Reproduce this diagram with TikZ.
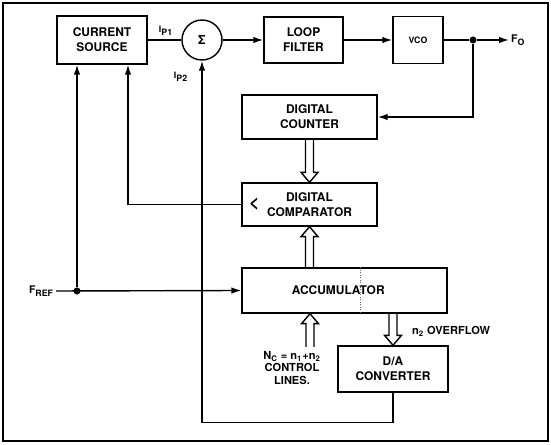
\documentclass[tikz,border=0pt]{standalone}
\usepackage{fontspec}
\setmainfont{TeX Gyre Heros}
\usepackage{tikz}
\usetikzlibrary{shapes,arrows,arrows.meta,calc}
\tikzstyle{rectblock} = [rectangle, draw, thick, align=center, font=\fontsize{6.8}{8.5}\selectfont\bfseries]
\tikzstyle{sumblock} = [circle, draw, thick, minimum size=0.8cm, inner sep=0pt, font=\fontsize{7}{8}\selectfont\bfseries]
\tikzstyle{arrow} = [draw, -{Latex[length=0.2cm, width=0.13cm]}, thick]
\tikzstyle{line} = [draw, thick]
\tikzstyle{lbl} = [inner sep=1pt, align=center, font=\fontsize{6.3}{7.3}\selectfont\bfseries]
\tikzstyle{small} = [inner sep=1pt, font=\fontsize{5}{6}\selectfont\bfseries]
\tikzstyle{junction} = [circle, fill, inner sep=0pt, minimum size=4pt]
\newcommand{\busarrow}[2]{%
    \coordinate (bh) at ($(#2)!0.2cm!(#1)$);
    \draw[thick, line join=miter] ($(#1)!0.08cm!90:(#2)$) -- ($(bh)!0.08cm!90:(#2)$) -- ($(bh)!0.17cm!90:(#2)$) -- (#2) -- ($(bh)!0.17cm!-90:(#2)$) -- ($(bh)!0.08cm!-90:(#2)$) -- ($(#1)!0.08cm!-90:(#2)$);
}

\begin{document}
\begin{tikzpicture}[x=0.02cm, y=-0.02cm]
    \useasboundingbox (0,0) rectangle (551,445);
    \draw[line width=1.2pt] (3,3) rectangle (548,441);

    % forward path
    \node[rectblock, minimum width=1.8cm, minimum height=0.96cm] at (102,40) (src) {CURRENT\\SOURCE};
    \node[sumblock] at (202,40) (sum) {Σ};
    \node[rectblock, minimum width=1.58cm, minimum height=0.92cm] at (303.5,40) (filt) {LOOP\\FILTER};
    \node[rectblock, minimum width=1cm, minimum height=0.94cm, font=\fontsize{5}{6}\selectfont\bfseries] at (418,40) (vco) {VCO};
    \node[junction] at (473,40) (oj) {};
    \node[lbl, anchor=west, font=\fontsize{6}{7}\selectfont\bfseries] at (509,40) (fo) {F\textsubscript{O}};
    \node[small] at (166,31) (ip1) {I\textsubscript{P1}};
    \node[small] at (181,77) (ip2) {I\textsubscript{P2}};

    % counter, comparator, accumulator
    \node[rectblock, minimum width=2.7cm, minimum height=0.88cm] at (309.5,117) (cnt) {DIGITAL\\COUNTER};
    \node[rectblock, minimum width=2.7cm, minimum height=0.86cm] at (309.5,204.5) (cmp) {DIGITAL\\COMPARATOR};
    \node[anchor=west, inner sep=0pt, font=\fontsize{10}{10}\selectfont\bfseries] at ([xshift=0.15cm]cmp.west) (lt) {<};
    \node[rectblock, minimum width=4.1cm, minimum height=0.9cm] at (344.5,290.5) (acc) {ACCUMULATOR\hspace{0.25cm}};
    \coordinate (div) at (360,290);
    \draw[thin, densely dotted, black!60] (div |- acc.north) -- (div |- acc.south);
    \node[rectblock, minimum width=2.2cm, minimum height=0.92cm] at (393,369) (dac) {D/A\\CONVERTER};
    \node[lbl] at (292,368) (ctl) {N\textsubscript{C} = n\textsubscript{1}+n\textsubscript{2}\\CONTROL\\LINES.};
    \node[lbl, anchor=west] at (410,331) (ovf) {n\textsubscript{2} OVERFLOW};
    \node[lbl, anchor=east, font=\fontsize{6}{7}\selectfont\bfseries] at (56,291) (fref) {F\textsubscript{REF}};
    \node[junction] at (77,291) (fj) {};

    % connections
    \path[line] (src.east) -- (sum.west);
    \path[arrow] (sum) -- (filt);
    \path[arrow] (filt) -- (vco);
    \path[line] (vco.east) -- (oj);
    \path[arrow] (oj) -- (fo.west);
    \path[arrow] (oj) |- (cnt.east);
    \path[arrow] (fref.east) -- (acc.west);
    \path[arrow] (fj) -- (fj |- src.south);
    \path[arrow] (cmp.west) -| ($(src.south)+(26,0)$);
    \path[arrow] (dac.south) -- ++(0,30) -| (sum.south);

    % buses
    \coordinate (accout) at (cmp.south |- acc.north);
    \coordinate (ctlin) at (310,347);
    \coordinate (accin) at (ctlin |- acc.south);
    \coordinate (ovfout) at (dac.north |- acc.south);
    \busarrow{cnt.south}{cmp.north}
    \busarrow{accout}{cmp.south}
    \busarrow{ctlin}{accin}
    \busarrow{ovfout}{dac.north}
\end{tikzpicture}
\end{document}
